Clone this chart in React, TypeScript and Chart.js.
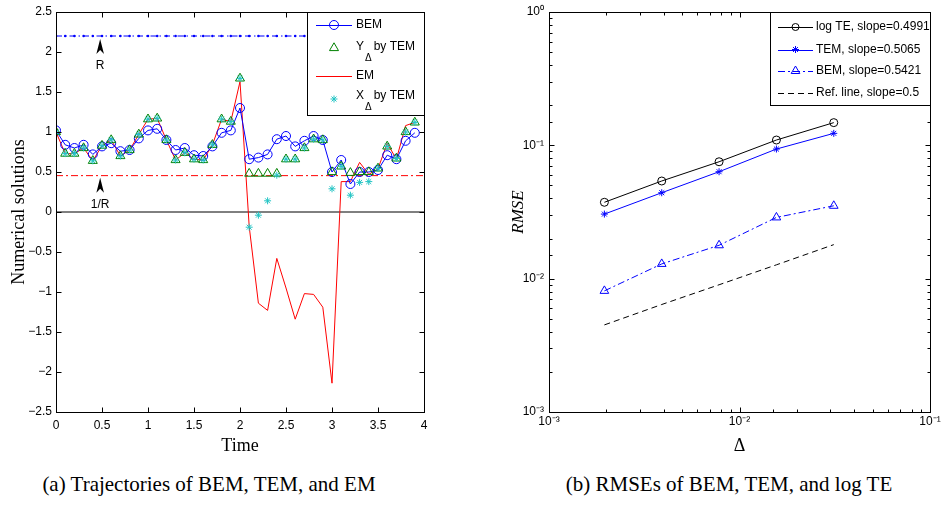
import React, { useEffect, useRef } from 'react';
import { Chart, registerables } from 'chart.js';

Chart.register(...registerables);

// ---------- Data: panel (a) ----------
const TIME = [0, 0.1, 0.2, 0.3, 0.4, 0.5, 0.6, 0.7, 0.8, 0.9, 1.0, 1.1, 1.2, 1.3, 1.4, 1.5, 1.6, 1.7, 1.8, 1.9,
  2.0, 2.1, 2.2, 2.3, 2.4, 2.5, 2.6, 2.7, 2.8, 2.9, 3.0, 3.1, 3.2, 3.3, 3.4, 3.5, 3.6, 3.7, 3.8, 3.9];
const BEM_PATH = [1.02, 0.84, 0.80, 0.84, 0.72, 0.82, 0.86, 0.76, 0.775, 0.92, 1.02, 1.04, 0.90, 0.775, 0.80, 0.71, 0.70, 0.82, 0.99, 1.02,
  1.30, 0.66, 0.68, 0.72, 0.91, 0.95, 0.82, 0.89, 0.95, 0.90, 0.50, 0.65, 0.35, 0.50, 0.50, 0.525, 0.71, 0.66, 0.89, 0.99];
const Y_TEM = [1.0, 0.73, 0.73, 0.80, 0.64, 0.83, 0.90, 0.70, 0.775, 0.97, 1.16, 1.17, 0.90, 0.65, 0.74, 0.66, 0.65, 0.84, 1.16, 1.13,
  1.67, 0.48, 0.48, 0.48, 0.48, 0.66, 0.66, 0.80, 0.91, 0.90, 0.50, 0.57, 0.49, 0.50, 0.50, 0.545, 0.82, 0.67, 1.00, 1.12];
const EM_PATH = [1.0, 0.73, 0.73, 0.80, 0.64, 0.83, 0.90, 0.70, 0.775, 0.97, 1.16, 1.17, 0.90, 0.65, 0.74, 0.66, 0.65, 0.84, 1.16, 1.13,
  1.63, -0.18, -1.14, -1.23, -0.58, -0.95, -1.34, -1.02, -1.03, -1.19, -2.14, 0.38, 0.38, 0.62, 0.47, 0.54, 0.86, 0.66, 1.08, 1.12];
const X_TEM = [1.0, 0.73, 0.73, 0.80, 0.64, 0.83, 0.90, 0.70, 0.775, 0.97, 1.16, 1.17, 0.90, 0.65, 0.74, 0.66, 0.65, 0.84, 1.16, 1.13,
  1.67, -0.19, -0.04, 0.14, 0.46, 0.66, 0.66, 0.80, 0.91, 0.90, 0.29, 0.57, 0.21, 0.37, 0.38, 0.545, 0.82, 0.67, 1.00, 1.12];
const R_LEVEL = 2.2;
const INV_R_LEVEL = 0.4545;
const ARROW_TIME = 0.48;

// ---------- Data: panel (b) ----------
const DELTA = [0.001953125, 0.00390625, 0.0078125, 0.015625, 0.03125];
const RMSE_LOGTE = [0.0374, 0.054, 0.0753, 0.1096, 0.148];
const RMSE_TEM = [0.0305, 0.0441, 0.0634, 0.0938, 0.123];
const RMSE_BEM = [0.0081, 0.0129, 0.0178, 0.0288, 0.0352];
const REF_LINE = [0.0045, 0.0064, 0.009, 0.0127, 0.018];

const SANS = "'Liberation Sans', Arial, Helvetica, sans-serif";
const SERIF = "'Liberation Serif', 'Times New Roman', Times, serif";

const BLUE = '#0000ff';
const GREEN = '#008000';
const RED = '#ff0000';
const CYAN = '#22c4c4';

function minusFmt(v: number) {
  const s = String(Math.abs(Math.round(v * 10) / 10));
  return v < 0 ? '\u2212' + s : s;
}
const SUP: Record<string, string> = { '-': '\u207B', '0': '\u2070', '1': '\u00B9', '2': '\u00B2', '3': '\u00B3' };
function isPow10(v: number) {
  const e = Math.log10(v);
  return Math.abs(e - Math.round(e)) < 1e-6;
}
function pow10Label(v: number) {
  if (!isPow10(v)) return '';
  const e = Math.round(Math.log10(v));
  return '10' + String(e).split('').map((c) => SUP[c]).join('');
}

function drawMarker(ctx: CanvasRenderingContext2D, style: string, x: number, y: number, r: number, color: string) {
  ctx.save();
  ctx.strokeStyle = color;
  ctx.fillStyle = color;
  ctx.lineWidth = 1;
  ctx.setLineDash([]);
  ctx.beginPath();
  if (style === 'circle') {
    ctx.arc(x, y, r, 0, Math.PI * 2);
    ctx.stroke();
  } else if (style === 'triangle') {
    ctx.moveTo(x, y - r);
    ctx.lineTo(x + r * 0.866, y + r * 0.5);
    ctx.lineTo(x - r * 0.866, y + r * 0.5);
    ctx.closePath();
    ctx.stroke();
  } else if (style === 'star') {
    for (let k = 0; k < 4; k++) {
      const a = (k * Math.PI) / 4;
      ctx.moveTo(x + Math.cos(a) * r, y + Math.sin(a) * r);
      ctx.lineTo(x - Math.cos(a) * r, y - Math.sin(a) * r);
    }
    ctx.stroke();
  }
  ctx.restore();
}

type LegendRow = {
  y: number;
  markerY?: number;
  line?: { color: string; dash: number[] };
  marker?: { style: string; color: string; r: number };
  parts: { text: string; sub?: boolean }[];
};
type LegendSpec = { left: number; top: number; right: number; bottom: number; lineX0: number; lineX1: number; textX: number; rows: LegendRow[] };

function drawLegend(ctx: CanvasRenderingContext2D, spec: LegendSpec) {
  ctx.save();
  ctx.fillStyle = '#fff';
  ctx.fillRect(spec.left, spec.top, spec.right - spec.left, spec.bottom - spec.top);
  ctx.strokeStyle = '#000';
  ctx.lineWidth = 1;
  ctx.setLineDash([]);
  ctx.strokeRect(spec.left + 0.5, spec.top + 0.5, spec.right - spec.left - 1, spec.bottom - spec.top - 1);
  for (const row of spec.rows) {
    const my = row.markerY ?? row.y;
    if (row.line) {
      ctx.save();
      ctx.strokeStyle = row.line.color;
      ctx.lineWidth = 1;
      ctx.setLineDash(row.line.dash);
      ctx.beginPath();
      ctx.moveTo(spec.lineX0, Math.round(my) + 0.5);
      ctx.lineTo(spec.lineX1, Math.round(my) + 0.5);
      ctx.stroke();
      ctx.restore();
    }
    if (row.marker) {
      drawMarker(ctx, row.marker.style, (spec.lineX0 + spec.lineX1) / 2, my, row.marker.r, row.marker.color);
    }
    let cx = spec.textX;
    ctx.fillStyle = '#000';
    ctx.textBaseline = 'middle';
    ctx.textAlign = 'left';
    for (const p of row.parts) {
      ctx.font = p.sub ? `10px ${SANS}` : `12px ${SANS}`;
      const yy = p.sub ? row.y + 11 : row.y;
      ctx.fillText(p.text, cx, yy);
      cx += ctx.measureText(p.text).width + (p.sub ? 2 : 1);
    }
  }
  ctx.restore();
}

function drawFrameTicks(chart: any, logMode: boolean) {
  const { ctx, chartArea: a } = chart;
  const xs = chart.scales.x;
  const ys = chart.scales.y;
  const L = Math.round(a.left) + 0.5;
  const R = Math.round(a.right) + 0.5;
  const T = Math.round(a.top) + 0.5;
  const B = Math.round(a.bottom) + 0.5;
  ctx.save();
  ctx.strokeStyle = '#000';
  ctx.lineWidth = 1;
  ctx.setLineDash([]);
  ctx.beginPath();
  for (const t of xs.ticks) {
    const len = logMode && !isPow10(t.value) ? 3 : 5;
    const px = Math.round(xs.getPixelForValue(t.value)) + 0.5;
    ctx.moveTo(px, B);
    ctx.lineTo(px, B - len);
    ctx.moveTo(px, T);
    ctx.lineTo(px, T + len);
  }
  for (const t of ys.ticks) {
    const len = logMode && !isPow10(t.value) ? 3 : 5;
    const py = Math.round(ys.getPixelForValue(t.value)) + 0.5;
    ctx.moveTo(L, py);
    ctx.lineTo(L + len, py);
    ctx.moveTo(R, py);
    ctx.lineTo(R - len, py);
  }
  ctx.stroke();
  ctx.strokeRect(L, T, R - L, B - T);
  ctx.restore();
}

function drawArrow(ctx: CanvasRenderingContext2D, x: number, tipY: number, label: string) {
  ctx.save();
  ctx.fillStyle = '#000';
  ctx.strokeStyle = '#000';
  ctx.lineWidth = 1;
  ctx.beginPath();
  ctx.moveTo(x, tipY);
  ctx.lineTo(x + 3.8, tipY + 15);
  ctx.lineTo(x, tipY + 11);
  ctx.lineTo(x - 3.8, tipY + 15);
  ctx.closePath();
  ctx.fill();
  ctx.font = `12px ${SANS}`;
  ctx.textAlign = 'center';
  ctx.textBaseline = 'middle';
  ctx.fillText(label, x, tipY + 27);
  ctx.restore();
}

const LEFT_LEGEND: LegendSpec = {
  left: 307, top: 12, right: 425, bottom: 116, lineX0: 316, lineX1: 352, textX: 356,
  rows: [
    { y: 25, line: { color: BLUE, dash: [] }, marker: { style: 'circle', color: BLUE, r: 4.5 }, parts: [{ text: 'BEM' }] },
    { y: 47, markerY: 48, marker: { style: 'triangle', color: GREEN, r: 5.2 }, parts: [{ text: 'Y' }, { text: 'Δ', sub: true }, { text: 'by TEM' }] },
    { y: 76, line: { color: RED, dash: [] }, parts: [{ text: 'EM' }] },
    { y: 96, markerY: 99, marker: { style: 'star', color: CYAN, r: 3.5 }, parts: [{ text: 'X' }, { text: 'Δ', sub: true }, { text: 'by TEM' }] },
  ],
};

const RIGHT_LEGEND_LOCAL = (offset: number): LegendSpec => ({
  left: 770 - offset, top: 12, right: 931 - offset, bottom: 106, lineX0: 778 - offset, lineX1: 813 - offset, textX: 816 - offset,
  rows: [
    { y: 27, line: { color: '#000', dash: [] }, marker: { style: 'circle', color: '#000', r: 3.5 }, parts: [{ text: 'log TE, slope=0.4991' }] },
    { y: 49.5, line: { color: BLUE, dash: [] }, marker: { style: 'star', color: BLUE, r: 3.5 }, parts: [{ text: 'TEM, slope=0.5065' }] },
    { y: 71, line: { color: BLUE, dash: [7, 3, 2, 3] }, marker: { style: 'triangle', color: BLUE, r: 5 }, parts: [{ text: 'BEM, slope=0.5421' }] },
    { y: 93, line: { color: '#000', dash: [6, 4] }, parts: [{ text: 'Ref. line, slope=0.5' }] },
  ],
});

function LeftChart() {
  const ref = useRef<HTMLCanvasElement>(null);
  useEffect(() => {
    if (!ref.current) return;
    const pts = (vals: number[]) => TIME.map((t, i) => ({ x: t, y: vals[i] }));
    const overlay = {
      id: 'overlayA',
      afterDraw(chart: any) {
        const ctx = chart.ctx;
        drawFrameTicks(chart, false);
        const xs = chart.scales.x;
        const ys = chart.scales.y;
        const ax = xs.getPixelForValue(ARROW_TIME);
        drawArrow(ctx, ax, ys.getPixelForValue(R_LEVEL) + 3, 'R');
        drawArrow(ctx, ax, ys.getPixelForValue(INV_R_LEVEL) + 2, '1/R');
        drawLegend(ctx, LEFT_LEGEND);
      },
    };
    const chart = new Chart(ref.current, {
      type: 'line',
      data: {
        datasets: [
          {
            label: 'X_Δ by TEM', data: pts(X_TEM), showLine: false, pointStyle: 'star', pointRadius: 3.5,
            pointBorderColor: CYAN, pointBackgroundColor: CYAN, pointBorderWidth: 1, borderColor: CYAN, order: 0,
          },
          {
            label: 'Y_Δ by TEM', data: pts(Y_TEM), showLine: false, pointStyle: 'triangle', pointRadius: 5.2,
            pointBorderColor: GREEN, pointBackgroundColor: 'rgba(0,0,0,0)', pointBorderWidth: 1, borderColor: GREEN, order: 1,
          },
          {
            label: 'BEM', data: pts(BEM_PATH), borderColor: BLUE, borderWidth: 1, pointStyle: 'circle', pointRadius: 4.5,
            pointBorderColor: BLUE, pointBackgroundColor: 'rgba(0,0,0,0)', pointBorderWidth: 1, order: 2,
          },
          {
            label: 'EM', data: pts(EM_PATH), borderColor: RED, borderWidth: 1, pointRadius: 0, order: 3,
          },
          {
            label: 'R', data: [...TIME, 4].map((t) => ({ x: t, y: R_LEVEL })), borderColor: BLUE, borderWidth: 1,
            borderDash: [6, 3, 1.5, 3], pointStyle: 'circle', pointRadius: 1.3, pointBorderWidth: 0,
            pointBackgroundColor: BLUE, order: 4,
          },
          {
            label: '1/R', data: [{ x: 0, y: INV_R_LEVEL }, { x: 4, y: INV_R_LEVEL }], borderColor: RED, borderWidth: 1,
            borderDash: [7, 3, 2, 3], pointRadius: 0, order: 4,
          },
          {
            label: 'zero', data: [{ x: 0, y: 0 }, { x: 4, y: 0 }], borderColor: '#000', borderWidth: 1, pointRadius: 0, order: 5,
          },
        ],
      },
      options: {
        responsive: false,
        animation: false,
        devicePixelRatio: 1,
        events: [],
        layout: { padding: { top: 12, right: 16, left: 0, bottom: 0 } },
        plugins: { legend: { display: false }, tooltip: { enabled: false } },
        scales: {
          x: {
            type: 'linear', min: 0, max: 4,
            ticks: { stepSize: 0.5, color: '#000', font: { family: SANS, size: 12 }, padding: 6, maxRotation: 0, autoSkip: false, callback: (v: any) => minusFmt(Number(v)) },
            grid: { display: false, drawTicks: false },
            border: { display: false },
            title: { display: true, text: 'Time', color: '#000', font: { family: SERIF, size: 18 }, padding: { top: 0, bottom: 3 } },
            afterFit(s: any) { s.height = 48; s.paddingLeft = 0; s.paddingRight = 0; },
          },
          y: {
            type: 'linear', min: -2.5, max: 2.5,
            ticks: { stepSize: 0.5, color: '#000', font: { family: SANS, size: 12 }, padding: 4, autoSkip: false, callback: (v: any) => minusFmt(Number(v)) },
            grid: { display: false, drawTicks: false },
            border: { display: false },
            title: { display: true, text: 'Numerical solutions', color: '#000', font: { family: SERIF, size: 18 }, padding: { top: 8, bottom: 0 } },
            afterFit(s: any) { s.width = 56; s.paddingTop = 0; s.paddingBottom = 0; },
          },
        },
      } as any,
      plugins: [overlay],
    });
    return () => chart.destroy();
  }, []);
  return <canvas ref={ref} width={440} height={460} style={{ position: 'absolute', left: 0, top: 0, width: 440, height: 460 }} />;
}

const RIGHT_LEFT = 505;

function RightChart() {
  const ref = useRef<HTMLCanvasElement>(null);
  useEffect(() => {
    if (!ref.current) return;
    const pts = (vals: number[]) => DELTA.map((d, i) => ({ x: d, y: vals[i] }));
    const legend = RIGHT_LEGEND_LOCAL(RIGHT_LEFT);
    const overlay = {
      id: 'overlayB',
      afterDraw(chart: any) {
        drawFrameTicks(chart, true);
        drawLegend(chart.ctx, legend);
      },
    };
    const chart = new Chart(ref.current, {
      type: 'line',
      data: {
        datasets: [
          {
            label: 'log TE, slope=0.4991', data: pts(RMSE_LOGTE), borderColor: '#000', borderWidth: 1, pointStyle: 'circle',
            pointRadius: 4, pointBorderColor: '#000', pointBackgroundColor: 'rgba(0,0,0,0)', pointBorderWidth: 1,
          },
          {
            label: 'TEM, slope=0.5065', data: pts(RMSE_TEM), borderColor: BLUE, borderWidth: 1, pointStyle: 'star',
            pointRadius: 3.5, pointBorderColor: BLUE, pointBackgroundColor: BLUE, pointBorderWidth: 1,
          },
          {
            label: 'BEM, slope=0.5421', data: pts(RMSE_BEM), borderColor: BLUE, borderWidth: 1, borderDash: [7, 3, 2, 3],
            pointStyle: 'triangle', pointRadius: 5, pointBorderColor: BLUE, pointBackgroundColor: 'rgba(0,0,0,0)', pointBorderWidth: 1,
          },
          {
            label: 'Ref. line, slope=0.5', data: pts(REF_LINE), borderColor: '#000', borderWidth: 1, borderDash: [6, 4], pointRadius: 0,
          },
        ],
      },
      options: {
        responsive: false,
        animation: false,
        devicePixelRatio: 1,
        events: [],
        layout: { padding: { top: 12, right: 11, left: 0, bottom: 0 } },
        plugins: { legend: { display: false }, tooltip: { enabled: false } },
        scales: {
          x: {
            type: 'logarithmic', min: 0.001, max: 0.1,
            ticks: { color: '#000', font: { family: SANS, size: 12 }, padding: 2, maxRotation: 0, autoSkip: false, callback: (v: any) => pow10Label(Number(v)) },
            grid: { display: false, drawTicks: false },
            border: { display: false },
            title: { display: true, text: 'Δ', color: '#000', font: { family: SERIF, size: 18 }, padding: { top: 0, bottom: 3 } },
            afterFit(s: any) { s.height = 48; s.paddingLeft = 0; s.paddingRight = 0; },
          },
          y: {
            type: 'logarithmic', min: 0.001, max: 1,
            ticks: { color: '#000', font: { family: SANS, size: 12 }, padding: 5, autoSkip: false, callback: (v: any) => pow10Label(Number(v)) },
            grid: { display: false, drawTicks: false },
            border: { display: false },
            title: { display: true, text: 'RMSE', color: '#000', font: { family: SERIF, size: 17, style: 'italic' }, padding: { top: 3, bottom: 0 } },
            afterFit(s: any) { s.width = 44; s.paddingTop = 0; s.paddingBottom = 0; },
          },
        },
      } as any,
      plugins: [overlay],
    });
    return () => chart.destroy();
  }, []);
  return <canvas ref={ref} width={436} height={460} style={{ position: 'absolute', left: RIGHT_LEFT, top: 0, width: 436, height: 460 }} />;
}

export default function App() {
  const cap: React.CSSProperties = {
    position: 'absolute', top: 471, textAlign: 'center', fontFamily: SERIF, fontSize: 21, lineHeight: '26px', color: '#000', whiteSpace: 'nowrap',
  };
  return (
    <div style={{ position: 'absolute', left: 0, top: 0, width: 941, height: 505, background: '#fff', overflow: 'hidden' }}>
      <LeftChart />
      <RightChart />
      <div style={{ ...cap, left: 0, width: 418 }}>(a) Trajectories of BEM, TEM, and EM</div>
      <div style={{ ...cap, left: 529, width: 400 }}>(b) RMSEs of BEM, TEM, and log TE</div>
    </div>
  );
}
